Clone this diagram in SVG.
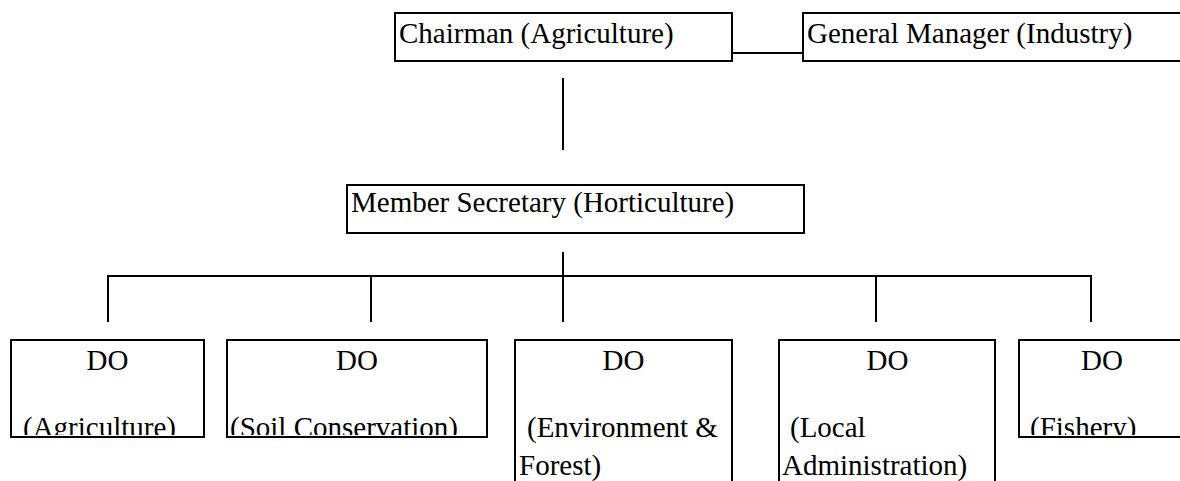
<svg xmlns="http://www.w3.org/2000/svg" width="1180" height="481" viewBox="0 0 1180 481">
<style>
.box{fill:none;stroke:#000;stroke-width:2}
.ln{fill:none;stroke:#000;stroke-width:2}
.c{text-anchor:middle}
</style>
<defs>
<clipPath id="clipLow"><rect x="0" y="0" width="1180" height="435"/></clipPath>
</defs>
<rect width="1180" height="481" fill="#fff"/>
<g id="connectors">
<line class="ln" x1="732" y1="53" x2="803" y2="53"/>
<line class="ln" x1="563" y1="78" x2="563" y2="150"/>
<line class="ln" x1="563" y1="252" x2="563" y2="322"/>
<line class="ln" x1="107" y1="276" x2="1092" y2="276"/>
<line class="ln" x1="108" y1="276" x2="108" y2="322"/>
<line class="ln" x1="371" y1="276" x2="371" y2="322"/>
<line class="ln" x1="876" y1="276" x2="876" y2="322"/>
<line class="ln" x1="1091" y1="276" x2="1091" y2="322"/>
</g>
<g font-family="'Liberation Serif', 'DejaVu Serif', serif" font-size="29" fill="#000">
<g id="chairman">
<rect class="box" x="395" y="13" width="337" height="48"/>
<text x="399" y="43">Chairman (Agriculture)</text>
</g>
<g id="gm">
<rect class="box" x="803" y="13" width="400" height="48"/>
<text x="807" y="43">General Manager (Industry)</text>
</g>
<g id="member">
<rect class="box" x="347" y="185" width="457" height="48"/>
<text x="351" y="212">Member Secretary (Horticulture)</text>
</g>
<g id="do-agri">
<text class="c" x="107.5" y="370">DO</text>
<text x="23" y="437" clip-path="url(#clipLow)">(Agriculture)</text>
<rect class="box" x="11" y="340" width="193" height="97"/>
</g>
<g id="do-soil">
<text class="c" x="357" y="370">DO</text>
<text x="230" y="437" clip-path="url(#clipLow)">(Soil Conservation)</text>
<rect class="box" x="227" y="340" width="260" height="97"/>
</g>
<g id="do-env">
<rect class="box" x="515" y="340" width="217" height="160"/>
<text class="c" x="623.5" y="370">DO</text>
<text x="527" y="437">(Environment &amp;</text>
<text x="519" y="475">Forest)</text>
</g>
<g id="do-local">
<rect class="box" x="779" y="340" width="216" height="160"/>
<text class="c" x="887.5" y="370">DO</text>
<text x="790" y="437">(Local</text>
<text x="782" y="475">Administration)</text>
</g>
<g id="do-fish">
<text class="c" x="1102" y="370">DO</text>
<text x="1030" y="437" clip-path="url(#clipLow)">(Fishery)</text>
<rect class="box" x="1019" y="340" width="200" height="97"/>
</g>
</g>
</svg>
